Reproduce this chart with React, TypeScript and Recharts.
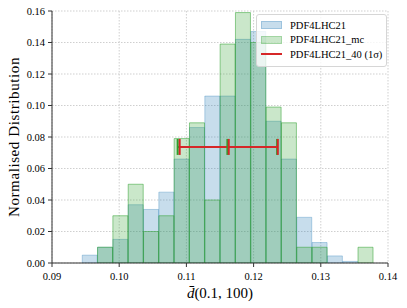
import { Bar, CartesianGrid, ComposedChart, ErrorBar, Legend, Scatter, XAxis, YAxis } from "recharts";

// histogram bins (centres) shared by both replica sets
const binCentres = [
  0.09564, 0.09792, 0.1002, 0.10248, 0.10476, 0.10704, 0.10932, 0.1116, 0.11388, 0.11616,
  0.11844, 0.12072, 0.123, 0.12528, 0.12756, 0.12984, 0.13212, 0.1344, 0.13668,
];
const pdf4lhc21 = [
  0.005, 0.01, 0.015, 0.037, 0.034, 0.045, 0.066, 0.086, 0.106, 0.106,
  0.142, 0.147, 0.09, 0.066, 0.029, 0.013, 0.0045, 0.001, 0,
];
const pdf4lhc21Mc = [
  0, 0.01, 0.03, 0.05, 0.02, 0.03, 0.079, 0.089, 0.04, 0.139,
  0.159, 0.14, 0.099, 0.089, 0.01, 0.01, 0, 0, 0.01,
];

// 1 sigma bands
const mcBand = { centre: 0.1161, half: 0.0074, level: 0.0737 };
const hessianBand = { centre: 0.1163, half: 0.0073, level: 0.0737 };

const xTicks = [0.09, 0.1, 0.11, 0.12, 0.13, 0.14];
const yTicks = [0, 0.02, 0.04, 0.06, 0.08, 0.1, 0.12, 0.14, 0.16];

const BLUE = "#1f77b4";
const GREEN = "#2ca02c";
const RED = "#d62728";
const FONT = "'Liberation Serif', serif";

const histData = binCentres.map((x, i) => ({ x, blue: pdf4lhc21[i], green: pdf4lhc21Mc[i] }));
const mcData = [{ x: mcBand.centre, y: mcBand.level, err: mcBand.half }];
const hessData = [{ x: hessianBand.centre, y: hessianBand.level, err: hessianBand.half }];

function tickMark(color: string) {
  return (props: any) => (
    <line x1={props.cx} x2={props.cx} y1={props.cy - 8} y2={props.cy + 8} stroke={color} strokeWidth={2} />
  );
}

function XTick({ x, y, payload }: any) {
  return (
    <text x={x} y={y + 10} textAnchor="middle" fontFamily={FONT} fontSize={10.5} fill="#000">
      {payload.value.toFixed(2)}
    </text>
  );
}

function YTick({ x, y, payload }: any) {
  return (
    <text x={x} y={y} textAnchor="end" dominantBaseline="central" fontFamily={FONT} fontSize={10.5} fill="#000">
      {payload.value.toFixed(2)}
    </text>
  );
}

function XLabel({ viewBox }: any) {
  const cx = viewBox.x + viewBox.width / 2;
  return (
    <text x={cx} y={viewBox.y + 35} textAnchor="middle" fontFamily={FONT} fontSize={15} fill="#000">
      <tspan fontStyle="italic">d̄</tspan>(0.1, 100)
    </text>
  );
}

function YLabel({ viewBox }: any) {
  const cy = viewBox.y + viewBox.height / 2;
  const x = 14;
  return (
    <text x={x} y={cy} transform={`rotate(-90 ${x} ${cy})`} textAnchor="middle" dominantBaseline="central" fontFamily={FONT} fontSize={15} letterSpacing={0.6} fill="#000">
      Normalised Distribution
    </text>
  );
}

function LegendBox() {
  const row = { display: "flex", alignItems: "center", height: 14.5, whiteSpace: "nowrap" } as const;
  const patch = (color: string) => ({
    width: 21,
    height: 8,
    marginRight: 8,
    flex: "none",
    background: color,
    border: `1px solid ${color}`,
    boxSizing: "border-box" as const,
  });
  return (
    <div
      style={{
        border: "1px solid #d6d6d6",
        borderRadius: 3,
        background: "rgba(255,255,255,0.8)",
        padding: "3px 4px 4px 4px",
        fontFamily: FONT,
        fontSize: 10.5,
        color: "#000",
        display: "inline-block",
      }}
    >
      <div style={row}>
        <span style={patch("rgba(31,119,180,0.25)")} />
        PDF4LHC21
      </div>
      <div style={row}>
        <span style={patch("rgba(44,160,44,0.25)")} />
        PDF4LHC21_mc
      </div>
      <div style={row}>
        <span style={{ width: 21, height: 2, marginRight: 8, flex: "none", background: RED }} />
        PDF4LHC21_40 (1σ)
      </div>
    </div>
  );
}

export default function App() {
  return (
    <div style={{ position: "absolute", left: 0, top: 0, width: 407, height: 308, background: "#fff", fontFamily: FONT }}>
      <ComposedChart
        width={407}
        height={308}
        data={histData}
        margin={{ top: 11, right: 19, bottom: 15, left: 8 }}
        barCategoryGap={0}
        barGap={0}
      >
        <CartesianGrid xAxisId="a" stroke="#cfcfcf" strokeDasharray="1.5 1.5" horizontal vertical />
        <XAxis
          xAxisId="a"
          type="number"
          dataKey="x"
          domain={[0.09, 0.14]}
          ticks={xTicks}
          allowDataOverflow
          tick={<XTick />}
          tickSize={4}
          tickMargin={3}
          height={30}
          stroke="#333"
          label={<XLabel />}
        />
        <XAxis xAxisId="b" type="number" dataKey="x" domain={[0.09, 0.14]} allowDataOverflow hide />
        <XAxis xAxisId="c" type="number" dataKey="x" domain={[0.09, 0.14]} allowDataOverflow hide />
        <XAxis xAxisId="t" orientation="top" type="number" dataKey="x" domain={[0.09, 0.14]} allowDataOverflow tick={false} tickLine={false} height={0} stroke="#333" />
        <YAxis
          type="number"
          domain={[0, 0.16]}
          ticks={yTicks}
          allowDataOverflow
          tick={<YTick />}
          tickSize={4}
          tickMargin={3}
          width={44}
          stroke="#333"
          label={<YLabel />}
        />
        <YAxis yAxisId="r" orientation="right" type="number" domain={[0, 0.16]} tick={false} tickLine={false} width={0} stroke="#333" />
        <Bar xAxisId="b" dataKey="blue" name="PDF4LHC21" fill={BLUE} fillOpacity={0.25} stroke={BLUE} strokeOpacity={0.3} isAnimationActive={false} />
        <Bar xAxisId="c" dataKey="green" name="PDF4LHC21_mc" fill={GREEN} fillOpacity={0.25} stroke={GREEN} strokeOpacity={0.5} isAnimationActive={false} />
        <Scatter xAxisId="a" data={mcData} dataKey="y" shape={tickMark(GREEN)} isAnimationActive={false} legendType="none">
          <ErrorBar dataKey="err" direction="x" width={8} stroke={GREEN} strokeWidth={2} isAnimationActive={false} />
        </Scatter>
        <Scatter xAxisId="a" data={hessData} dataKey="y" shape={tickMark(RED)} isAnimationActive={false} name="PDF4LHC21_40 (1σ)">
          <ErrorBar dataKey="err" direction="x" width={8} stroke={RED} strokeWidth={2} isAnimationActive={false} />
        </Scatter>
        <Legend
          layout="horizontal"
          verticalAlign="middle"
          content={<LegendBox />}
          wrapperStyle={{ top: 14, left: 256, width: "auto" }}
        />
      </ComposedChart>
    </div>
  );
}
